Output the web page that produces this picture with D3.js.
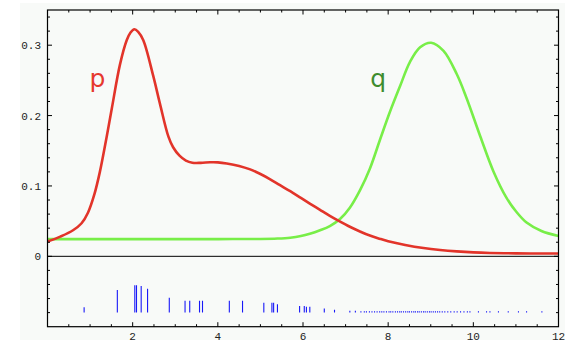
<!DOCTYPE html>
<html>
<head>
<meta charset="utf-8">
<script src="https://cdn.jsdelivr.net/npm/d3@7"></script>
<style>
  html, body { margin: 0; padding: 0; background: #ffffff; }
  svg { display: block; }
</style>
</head>
<body>
<svg id="chart" width="584" height="364"></svg>
<script>
// ---- data ----
const pX = [0, 0.3, 0.6, 0.8, 0.95, 1.1, 1.23, 1.39, 1.51, 1.70, 1.86, 1.95, 2.04, 2.13, 2.25, 2.48, 2.64, 2.84, 2.95, 3.1, 3.25, 3.4, 3.6, 3.82, 4.0, 4.21, 4.5, 4.76, 5.0, 5.23, 5.45, 5.70, 5.95, 6.16, 6.4, 6.63, 6.85, 7.10, 7.35, 7.57, 7.8, 8.0, 8.4, 8.83, 9.22, 9.61, 10.0, 10.39, 11.0, 11.5, 12];
const pY = [0.021, 0.028, 0.037, 0.047, 0.062, 0.088, 0.120, 0.170, 0.210, 0.272, 0.307, 0.318, 0.3226, 0.319, 0.307, 0.257, 0.217, 0.170, 0.155, 0.143, 0.136, 0.133, 0.1328, 0.1336, 0.1335, 0.132, 0.1285, 0.1235, 0.117, 0.1095, 0.1015, 0.0925, 0.083, 0.075, 0.066, 0.0575, 0.050, 0.042, 0.035, 0.0295, 0.025, 0.0215, 0.0162, 0.0118, 0.0090, 0.0070, 0.0056, 0.0048, 0.0042, 0.0040, 0.0040];

const qX = [0, 1, 2, 3, 4, 5, 5.4, 5.70, 5.95, 6.16, 6.4, 6.63, 6.87, 7.1, 7.34, 7.57, 7.81, 8.04, 8.28, 8.51, 8.75, 9.01, 9.30, 9.61, 9.84, 10.16, 10.47, 10.78, 11.0, 11.25, 11.6, 12];
const qY = [0.0245, 0.0245, 0.0245, 0.0245, 0.0245, 0.0247, 0.0253, 0.0265, 0.0288, 0.032, 0.037, 0.043, 0.053, 0.069, 0.094, 0.1245, 0.166, 0.205, 0.242, 0.276, 0.297, 0.3035, 0.292, 0.259, 0.225, 0.171, 0.121, 0.083, 0.064, 0.048, 0.036, 0.029];

// rug of sample marks below zero (position, height)
const rugX = [0.0, 0.86, 1.64, 2.05, 2.09, 2.20, 2.35, 2.86, 3.23, 3.34, 3.57, 3.64, 4.27, 4.58, 5.08, 5.27, 5.31, 5.40, 5.92, 6.03, 6.08, 6.16, 6.50, 6.74, 7.10, 7.23,
  7.36, 7.44, 7.49, 7.56, 7.62, 7.68, 7.74, 7.80, 7.85, 7.90, 7.96, 8.02, 8.06, 8.11, 8.17, 8.22, 8.27, 8.31, 8.36, 8.41, 8.46, 8.50, 8.55, 8.60, 8.64, 8.69, 8.73, 8.78, 8.83, 8.87, 8.92, 8.97, 9.01, 9.06, 9.11, 9.16, 9.21, 9.27, 9.33, 9.40, 9.47, 9.55, 9.62, 9.70, 9.78, 9.86, 9.92,
  10.12, 10.31, 10.39, 10.59, 10.82, 11.06, 11.25, 11.61];
const rugH = [0.002, 0.0075, 0.032, 0.039, 0.039, 0.038, 0.034, 0.021, 0.017, 0.017, 0.017, 0.017, 0.017, 0.017, 0.014, 0.014, 0.014, 0.012, 0.0095, 0.0095, 0.0085, 0.0085, 0.006, 0.004, 0.0025, 0.0025,
  0.002, 0.002, 0.002, 0.002, 0.002, 0.002, 0.002, 0.002, 0.002, 0.002, 0.002, 0.002, 0.002, 0.002, 0.002, 0.002, 0.002, 0.002, 0.002, 0.002, 0.002, 0.002, 0.002, 0.002, 0.002, 0.002, 0.002, 0.002, 0.002, 0.002, 0.002, 0.002, 0.002, 0.002, 0.002, 0.002, 0.002, 0.002, 0.002, 0.002, 0.002, 0.002, 0.002, 0.002, 0.002, 0.002, 0.002,
  0.0018, 0.0018, 0.0018, 0.0018, 0.0018, 0.0018, 0.0018, 0.0018];
const rugBase = -0.08;

const xTickLabels = [2, 4, 6, 8, 10, 12];
const yTickLabels = [0, 0.1, 0.2, 0.3];
const seriesLabels = ["p", "q"];

// ---- layout ----
const svg = d3.select("#chart");
const x = d3.scaleLinear().domain([0, 12]).range([47.5, 558.5]);
const y = d3.scaleLinear().domain([-0.1, 0.35]).range([326.7, 10]);
const [x0, x1] = x.range();
const [yb, yt] = y.range();

// background panel
svg.append("rect").attr("x", 20).attr("y", 3).attr("width", 545).attr("height", 337)
  .attr("fill", "#f8faf8");

svg.append("defs").append("clipPath").attr("id", "clip")
  .append("rect").attr("x", x0).attr("y", yt).attr("width", x1 - x0).attr("height", yb - yt);

const plot = svg.append("g").attr("clip-path", "url(#clip)");

// rug
plot.append("g").selectAll("line").data(rugX).join("line")
  .attr("x1", d => x(d)).attr("x2", d => x(d))
  .attr("y1", y(rugBase)).attr("y2", (d, i) => y(rugBase + rugH[i]))
  .attr("stroke", "#1818f8").attr("stroke-width", 1.1);

// zero line
plot.append("line").attr("x1", x0).attr("x2", x1).attr("y1", y(0)).attr("y2", y(0))
  .attr("stroke", "#000").attr("stroke-width", 1);

const line = d3.line().curve(d3.curveCatmullRom.alpha(0.5));
plot.append("path").attr("d", line(qX.map((v, i) => [x(v), y(qY[i])])))
  .attr("fill", "none").attr("stroke", "#78ee48").attr("stroke-width", 2.6)
  .attr("stroke-linejoin", "round");
plot.append("path").attr("d", line(pX.map((v, i) => [x(v), y(pY[i])])))
  .attr("fill", "none").attr("stroke", "#e2342a").attr("stroke-width", 2.6)
  .attr("stroke-linejoin", "round");

// frame
svg.append("rect").attr("x", x0).attr("y", yt).attr("width", x1 - x0).attr("height", yb - yt)
  .attr("fill", "none").attr("stroke", "#000").attr("stroke-width", 1.2);

// ticks (inside, on all four sides)
const xMajor = d3.range(0, 12.001, 2);
const xMinor = d3.range(0.5, 12, 0.5).filter(v => Math.abs(v / 2 - Math.round(v / 2)) > 1e-6);
const yMajor = [0, 0.1, 0.2, 0.3];
const yMinor = d3.range(-0.08, 0.345, 0.02).filter(v => Math.abs(v * 10 - Math.round(v * 10)) > 1e-6);
const tickG = svg.append("g").attr("stroke", "#000").attr("stroke-width", 1);
function xt(vals, len) {
  vals.forEach(v => {
    tickG.append("line").attr("x1", x(v)).attr("x2", x(v)).attr("y1", yb).attr("y2", yb - len);
    tickG.append("line").attr("x1", x(v)).attr("x2", x(v)).attr("y1", yt).attr("y2", yt + len);
  });
}
function yt_(vals, len) {
  vals.forEach(v => {
    tickG.append("line").attr("x1", x0).attr("x2", x0 + len).attr("y1", y(v)).attr("y2", y(v));
    tickG.append("line").attr("x1", x1).attr("x2", x1 - len).attr("y1", y(v)).attr("y2", y(v));
  });
}
xt(xMajor, 4.5); xt(xMinor, 2.5);
yt_(yMajor, 4.5); yt_(yMinor, 2.5);

// tick labels
const font = "'Liberation Mono', 'DejaVu Sans Mono', monospace";
svg.append("g").selectAll("text").data(xTickLabels).join("text")
  .attr("x", d => x(d)).attr("y", 340)
  .attr("text-anchor", "middle").attr("font-family", font).attr("font-size", 11)
  .attr("fill", "#222").text(d => d);
svg.append("g").selectAll("text").data(yTickLabels).join("text")
  .attr("x", 41).attr("y", d => y(d) + 4)
  .attr("text-anchor", "end").attr("font-family", font).attr("font-size", 11)
  .attr("fill", "#222").text(d => d === 0 ? "0" : d.toFixed(1));

// series labels
svg.append("text").attr("x", 89.5).attr("y", 87).attr("font-family", "'DejaVu Sans', sans-serif")
  .attr("font-size", 25).attr("fill", "#e6382e").text(seriesLabels[0]);
svg.append("text").attr("x", 370.3).attr("y", 87).attr("font-family", "'DejaVu Sans', sans-serif")
  .attr("font-size", 25).attr("fill", "#3e8c2e").text(seriesLabels[1]);
</script>
</body>
</html>
